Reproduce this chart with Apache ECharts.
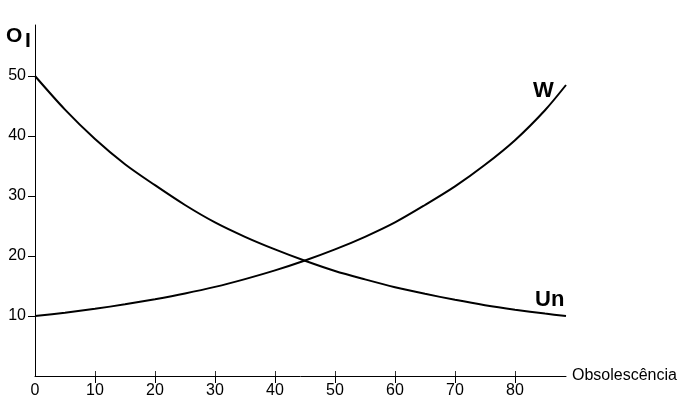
<!DOCTYPE html>
<html>
<head>
<meta charset="utf-8">
<script src="https://cdn.jsdelivr.net/npm/echarts@6/dist/echarts.min.js"></script>
<style>html,body{margin:0;padding:0;background:#fff;}#c{width:686px;height:416px;}</style>
</head>
<body>
<div id="c"></div>
<script>
const xValues = [0, 5, 10, 15, 20, 25, 30, 35, 40, 45, 50, 55, 60, 65, 70, 75, 80, 85, 88.5];
const unValues = [50, 44.4, 39.5, 35.3, 31.8, 28.5, 25.6, 23.2, 21.1, 19.2, 17.5, 16.1, 14.8, 13.7, 12.7, 11.8, 11.05, 10.4, 10];
const wValues = [10, 10.55, 11.2, 11.95, 12.8, 13.75, 14.85, 16.15, 17.6, 19.25, 21.1, 23.2, 25.6, 28.5, 31.6, 35.2, 39.3, 44.3, 48.5];
const xTickLabels = [0, 10, 20, 30, 40, 50, 60, 70, 80];
const yTickLabels = [10, 20, 30, 40, 50];
const xName = 'Obsolescência';
const seriesNames = ['Un', 'W'];

const font = 'Liberation Sans, Arial, sans-serif';
const chart = echarts.init(document.getElementById('c'), null, {renderer: 'canvas'});
const pairs = v => xValues.map((x, i) => [x, v[i]]);

chart.setOption({
  animation: false,
  backgroundColor: '#fff',
  grid: {left: 35, top: 25, width: 531, height: 351, containLabel: false},
  xAxis: {
    type: 'value', min: 0, max: 88.5, position: 'bottom',
    name: xName, nameLocation: 'end', nameGap: 6,
    nameTextStyle: {color: '#000', fontFamily: font, fontSize: 16, verticalAlign: 'middle', padding: [0, 0, 4, 0]},
    axisLine: {show: true, lineStyle: {color: '#000', width: 1}},
    axisTick: {show: true, length: 7, customValues: xTickLabels.slice(1), lineStyle: {color: '#000'}},
    axisLabel: {show: true, customValues: xTickLabels, margin: 7, color: '#000', fontFamily: font, fontSize: 16},
    splitLine: {show: false}
  },
  yAxis: {
    type: 'value', min: 0, max: 58.5,
    axisLine: {show: true, lineStyle: {color: '#000', width: 1}},
    axisTick: {show: true, length: 7, customValues: yTickLabels, lineStyle: {color: '#000'}},
    axisLabel: {show: true, customValues: yTickLabels, margin: 9, color: '#000', fontFamily: font, fontSize: 16},
    splitLine: {show: false}
  },
  series: [
    {name: seriesNames[0], type: 'line', data: pairs(unValues), smooth: 0.3, showSymbol: false,
     lineStyle: {color: '#000', width: 2}},
    {name: seriesNames[1], type: 'line', data: pairs(wValues), smooth: 0.3, showSymbol: false,
     lineStyle: {color: '#000', width: 2}},
    {name: 'ticks', type: 'scatter', silent: true, clip: false, z: 5,
     data: xTickLabels.slice(1).map(x => [x, 0]),
     symbol: 'rect', symbolSize: [1, 5], symbolOffset: [0.5, -2.5],
     itemStyle: {color: '#000'}}
  ],
  graphic: [
    {type: 'text', left: 6, top: 26, style: {text: 'O', font: 'bold 21px ' + font, fill: '#000'}},
    {type: 'text', left: 25, top: 31, style: {text: 'I', font: 'bold 21px ' + font, fill: '#000'}},
    {type: 'text', left: 533, top: 80, style: {text: seriesNames[1], font: 'bold 22px ' + font, fill: '#000'}},
    {type: 'text', left: 535, top: 289, style: {text: seriesNames[0], font: 'bold 22px ' + font, fill: '#000'}}
  ]
});
</script>
</body>
</html>
